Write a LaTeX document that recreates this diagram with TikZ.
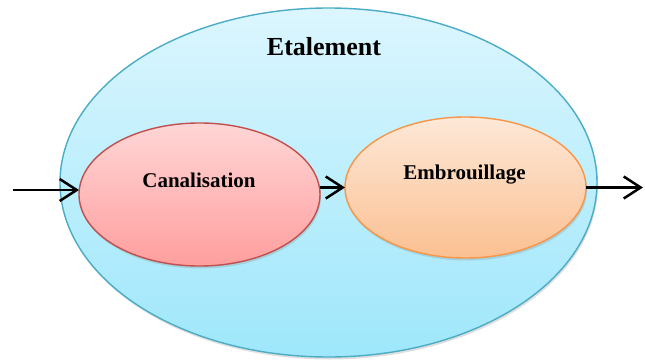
\documentclass[tikz,border=0pt]{standalone}
\usepackage{fontspec}
\setmainfont{Liberation Serif}
\usepackage{tikz}
\usetikzlibrary{shapes,arrows.meta,shadows}

\definecolor{aquaTop}{RGB}{220,246,254}
\definecolor{aquaBot}{RGB}{158,231,251}
\definecolor{aquaLine}{RGB}{75,172,198}
\definecolor{redTop}{RGB}{255,214,214}
\definecolor{redBot}{RGB}{255,158,158}
\definecolor{redLine}{RGB}{192,80,77}
\definecolor{orangeTop}{RGB}{253,232,216}
\definecolor{orangeBot}{RGB}{251,192,145}
\definecolor{orangeLine}{RGB}{247,150,70}

\begin{document}
\begin{tikzpicture}[
  cloud/.style={draw, ellipse, inner sep=0pt, outer sep=0pt, line width=1.4pt,
    drop shadow={shadow xshift=1pt, shadow yshift=-2.5pt, opacity=0.25}},
  tag/.style={font=\bfseries\fontsize{21}{21}\selectfont, anchor=base, inner sep=0pt},
  line/.style={draw, line width=2.5pt, -{Straight Barb[length=17pt, width=22pt, line width=2.5pt]}}]
  \useasboundingbox (0pt,0pt) rectangle (645pt,-361pt);

  \node [cloud, minimum width=537pt, minimum height=349pt, draw=aquaLine,
    top color=aquaTop, bottom color=aquaBot] (etalement) at (328.5pt,-182.5pt) {};
  \node [tag, font=\bfseries\fontsize{26}{26}\selectfont] (etalementtext) at (324pt,-56pt) {Etalement};

  % inner stages
  \node [cloud, minimum width=241pt, minimum height=143pt, draw=redLine,
    top color=redTop, bottom color=redBot] (canal) at (199.5pt,-194.5pt) {};
  \node [cloud, minimum width=241pt, minimum height=141pt, draw=orangeLine,
    top color=orangeTop, bottom color=orangeBot] (embr) at (465.5pt,-187.5pt) {};
  \node [tag] (canaltext) at (199pt,-187pt) {Canalisation};
  \node [tag] (embrtext) at (464.5pt,-179pt) {Embrouillage};

  \coordinate (in) at (13pt,-190pt);
  \coordinate (out) at (643pt,-187.5pt);
  \path [line] (in) -- (in -| canal.west);
  \path [line] (canal.east |- embr.west) -- (embr.west);
  \path [line] (embr.east) -- (out);
\end{tikzpicture}
\end{document}
